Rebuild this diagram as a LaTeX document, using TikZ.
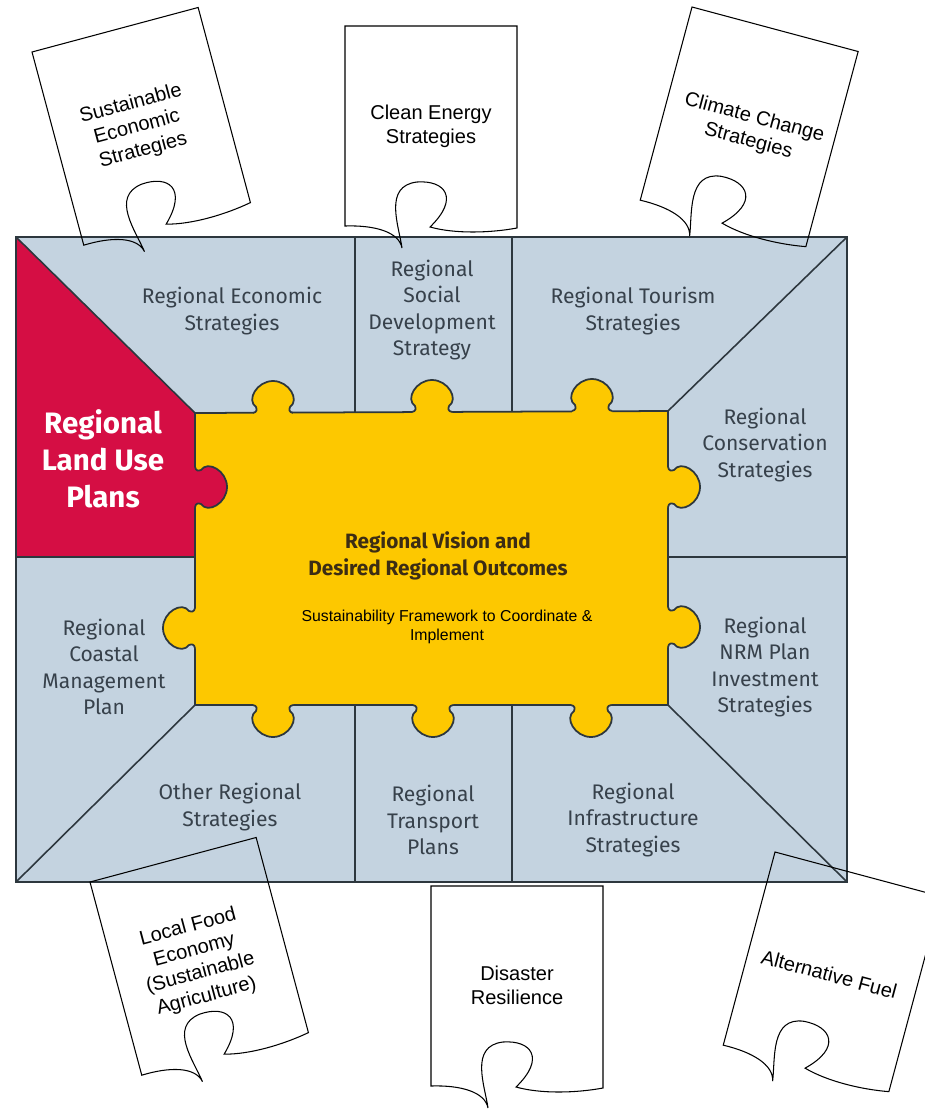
\documentclass[tikz,border=0pt]{standalone}
\usepackage{fontspec}
\setmainfont{Fira Sans}
\newfontfamily\arialfont{Liberation Sans}

\definecolor{boxblue}{RGB}{196,211,224}
\definecolor{landred}{RGB}{213,14,68}
\definecolor{puzzleyellow}{RGB}{253,200,0}
\definecolor{linegray}{RGB}{45,55,62}
\definecolor{labelgray}{RGB}{55,65,75}
\definecolor{visionbrown}{RGB}{60,45,20}

\begin{document}
\begin{tikzpicture}[x=0.02cm,y=-0.02cm]

\tikzset{region/.style = {align=center, text=labelgray, font=\fontsize{12}{15}\selectfont}}
\tikzset{divider/.style = {draw=linegray, line width=0.9pt}}
\tikzset{frame/.style = {draw=linegray, line width=1.2pt}}
\tikzset{puzzleline/.style = {draw=linegray, line width=1pt}}
\tikzset{paperline/.style = {draw=black, line width=0.6pt}}
\tikzset{papertext/.style = {align=center, font=\arialfont\fontsize{11.4}{13.6}\selectfont}}
\tikzset{pics/knob/.style = {code={
  \fill[#1] (-20,5) -- (-20,0) .. controls (-16,-1) and (-16,-3) .. (-17,-6) .. controls (-27,-13) and (-16,-32) .. (0,-32) .. controls (16,-32) and (27,-13) .. (17,-6) .. controls (16,-3) and (16,-1) .. (20,0) -- (20,5) -- cycle;
  \draw[puzzleline] (-20,0) .. controls (-16,-1) and (-16,-3) .. (-17,-6) .. controls (-27,-13) and (-16,-32) .. (0,-32) .. controls (16,-32) and (27,-13) .. (17,-6) .. controls (16,-3) and (16,-1) .. (20,0);
}}}
\tikzset{pics/paper/.style = {code={
  \draw[paperline] (0,0) -- (172,0) -- (172,202) .. controls (145,207) and (110,208) .. (85,201) .. controls (115,172) and (100,154) .. (72,156) .. controls (38,160) and (54,200) .. (57,222) .. controls (54,206) and (30,199) .. (0,200) -- cycle;
}}}

\useasboundingbox (0,0) rectangle (925,1112);
\clip (0,0) rectangle (925,1112);

% corners of the frame and of the puzzle piece
\coordinate (ftl) at (16,237);
\coordinate (ftr) at (847,237);
\coordinate (fbr) at (847,882);
\coordinate (fbl) at (16,882);
\coordinate (ptl) at (195,413);
\coordinate (ptr) at (668,411);
\coordinate (pbr) at (668,705);
\coordinate (pbl) at (195,705);
\coordinate (lmid) at (16,557);
\coordinate (plmid) at (195,557);
\coordinate (prmid) at (668,557);
\coordinate (rmid) at (847,557);

\fill[boxblue] (ftl) rectangle (fbr);
\fill[landred] (ftl) -- (ptl) -- (plmid) -- (lmid) -- cycle;

\draw[divider] (355,237) -- (355,413);
\draw[divider] (512,237) -- (512,412);
\draw[divider] (355,705) -- (355,882);
\draw[divider] (512,705) -- (512,882);
\draw[divider] (lmid) -- (plmid);
\draw[divider] (prmid) -- (rmid);
\draw[divider] (ftl) -- (ptl);
\draw[divider] (ftr) -- (ptr);
\draw[divider] (fbl) -- (pbl);
\draw[divider] (fbr) -- (pbr);

\filldraw[fill=puzzleyellow, puzzleline] (ptl) -- (ptr) -- (pbr) -- (pbl) -- cycle;

\pic at (273,413) {knob=puzzleyellow};
\pic at (432,412) {knob=puzzleyellow};
\pic at (592,411) {knob=puzzleyellow};
\pic[rotate=180] at (273,705) {knob=puzzleyellow};
\pic[rotate=180] at (433,705) {knob=puzzleyellow};
\pic[rotate=180] at (591,705) {knob=puzzleyellow};
\pic[rotate=-90] at (668,487) {knob=puzzleyellow};
\pic[rotate=-90] at (668,627) {knob=puzzleyellow};
\pic[rotate=90] at (195,628) {knob=puzzleyellow};
\pic[rotate=-90] at (195,487) {knob=landred};

\draw[frame] (ftl) rectangle (fbr);

\node[region] (econ) at (232,311) {Regional Economic\\Strategies};
\node[region] (social) at (432,310) {Regional\\Social\\Development\\Strategy};
\node[region] (tourism) at (633,311) {Regional Tourism\\Strategies};
\node[region] (conserv) at (765,445) {Regional\\Conservation\\Strategies};
\node[align=center, text=white, font=\bfseries\fontsize{16.8}{21}\selectfont] (landuse) at (103,459) {Regional\\Land Use\\Plans};
\node[align=center, text=visionbrown, font=\bfseries\fontsize{11.8}{15}\selectfont] (vision) at (438,556) {Regional Vision and\\Desired Regional Outcomes};
\node[align=center, font=\arialfont\fontsize{9}{10.8}\selectfont] (framework) at (447,627) {Sustainability Framework to Coordinate \&\\Implement};
\node[region] (coastal) at (104,667) {Regional\\Coastal\\Management\\Plan};
\node[region] (nrm) at (765,667) {Regional\\NRM Plan\\Investment\\Strategies};
\node[region] (other) at (230,807) {Other Regional\\Strategies};
\node[region] (transport) at (433,820) {Regional\\Transport\\Plans};
\node[region] (infra) at (633,820) {Regional\\Infrastructure\\Strategies};

\begin{scope}[shift={(32,52)}, rotate=15, transform shape]
\pic {paper};
\node[papertext] (sustecon) at (82,100) {Sustainable\\Economic\\Strategies};
\end{scope}

\begin{scope}[shift={(345,26)}]
\pic {paper};
\node[papertext] (energy) at (86,100) {Clean Energy\\Strategies};
\end{scope}

\begin{scope}[shift={(692,7)}, rotate=-15, transform shape]
\pic {paper};
\node[papertext] (climate) at (89,103) {Climate Change\\Strategies};
\end{scope}

\begin{scope}[shift={(90,882)}, rotate=15, transform shape]
\pic {paper};
\node[papertext] (food) at (83,105) {Local Food\\Economy\\(Sustainable\\Agriculture)};
\end{scope}

\begin{scope}[shift={(431,886)}]
\pic {paper};
\node[papertext] (disaster) at (86,99) {Disaster\\Resilience};
\end{scope}

\begin{scope}[shift={(775,852)}, rotate=-15, transform shape]
\pic {paper};
\node[papertext] (fuel) at (84,104) {Alternative Fuel};
\end{scope}

\end{tikzpicture}
\end{document}
